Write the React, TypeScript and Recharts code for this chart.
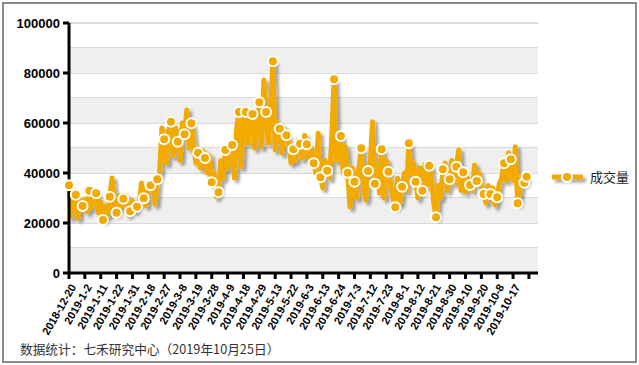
import React from 'react';
import {
  LineChart,
  Line,
  XAxis,
  YAxis,
  CartesianGrid,
  ReferenceArea,
} from 'recharts';

const ORANGE = '#f2a900';

// 成交量, one value per trading day from 2018-12-20 to 2019-10-25
const volume = [
  35100, 22500, 28000, 31300, 22000, 29000, 26800, 29500, 24500, 32900,
  26000, 33000, 31900, 24000, 28500, 21200, 26500, 23000, 30500, 38000,
  27000, 24100, 31000, 26500, 29700, 31000, 23500, 24700, 29000, 25000,
  26500, 28000, 36000, 29900, 27000, 33000, 35100, 34000, 27500, 37500,
  40000, 58000, 53500, 44000, 57000, 60500, 47000, 58000, 52500, 45000,
  60000, 55500, 65200, 50000, 59900, 52000, 44000, 48100, 42000, 49000,
  46000, 40000, 47000, 36300, 40000, 30500, 32300, 45000, 38000, 49200,
  42000, 47000, 51200, 38000, 58000, 64400, 42500, 62000, 64400, 52000,
  60000, 63600, 50000, 58000, 68300, 50500, 77200, 64400, 52000, 66000,
  84700, 49200, 60000, 57700, 48000, 58000, 55100, 52000, 44000, 49500,
  45000, 53000, 51700, 46000, 55000, 51500, 46000, 50000, 43900, 40000,
  55900, 38300, 34000, 45000, 40900, 38000, 55000, 77500, 45000, 52000,
  54800, 40000, 50500, 40100, 26500, 42000, 36500, 30000, 42000, 49900,
  34000, 29200, 40800, 45000, 60500, 35700, 42000, 32000, 49500, 30000,
  45000, 40500, 35000, 30000, 26300, 38000, 28000, 34500, 40000, 33000,
  51900, 40000, 44000, 36500, 30000, 42000, 32900, 43300, 35000, 42900,
  38000, 28000, 22300, 35000, 30000, 41500, 44000, 33000, 37500, 45000,
  36000, 42500, 49200, 33000, 40300, 32500, 38000, 35200, 33000, 43200,
  36800, 40000, 34000, 31600, 28000, 35000, 31600, 34000, 27200, 30300,
  36000, 38000, 43900, 37000, 48000, 45500, 37000, 50500, 27900, 33000,
  39000, 36100, 38500,
];

// one label every 7 trading days, last tick has no label
const tickLabels = [
  '2018-12-20', '2019-1-2', '2019-1-11', '2019-1-22', '2019-1-31',
  '2019-2-18', '2019-2-27', '2019-3-8', '2019-3-19', '2019-3-28',
  '2019-4-9', '2019-4-18', '2019-4-29', '2019-5-13', '2019-5-22',
  '2019-6-3', '2019-6-13', '2019-6-24', '2019-7-3', '2019-7-12',
  '2019-7-23', '2019-8-1', '2019-8-12', '2019-8-21', '2019-8-30',
  '2019-9-10', '2019-9-20', '2019-10-8', '2019-10-17', '',
];

const yTicks = [0, 20000, 40000, 60000, 80000, 100000];
const gridValues = [0, 10000, 20000, 30000, 40000, 50000, 60000, 70000, 80000, 90000, 100000];
const bands = [[0, 10000], [20000, 30000], [40000, 50000], [60000, 70000], [80000, 90000]];

const data = volume.map((v, i) => ({ i, v }));
const xTicks = tickLabels.map((_, k) => k * 7);

const XTick = (props: any) => {
  const { x, y, payload } = props;
  const label = tickLabels[payload.value / 7] || '';
  return (
    <text
      x={x + 4}
      y={y + 4}
      transform={`rotate(-60, ${x + 4}, ${y + 4})`}
      textAnchor="end"
      dominantBaseline="central"
      fontSize={11}
      fontWeight="bold"
      fill="#000"
      fontFamily="Liberation Sans, Arial, sans-serif"
    >
      {label}
    </text>
  );
};

const renderDot = (props: any) => {
  const { cx, cy, index } = props;
  if (index % 3 !== 0 && index !== volume.length - 1) return <g key={`d-${index}`} />;
  return <circle key={`d-${index}`} cx={cx} cy={cy} r={5} fill={ORANGE} stroke="#fff" strokeWidth={2} />;
};

const LegendBox = () => (
  <svg width={90} height={20} style={{ display: 'block' }}>
    <defs>
      <filter id="legshadow" filterUnits="userSpaceOnUse" x={0} y={0} width={60} height={20}>
        <feDropShadow dx={3} dy={3} stdDeviation={1.5} floodColor="#000" floodOpacity={0.35} />
      </filter>
    </defs>
    <line x1={5} y1={9} x2={36} y2={9} stroke={ORANGE} strokeWidth={5} filter="url(#legshadow)" />
    <circle cx={20} cy={9} r={5} fill={ORANGE} stroke="#fff" strokeWidth={2} />
    <text x={43} y={14} fontSize={13} fill="#222" fontFamily="Noto Sans CJK SC, sans-serif">
      成交量
    </text>
  </svg>
);

export default function App() {
  return (
    <div style={{ position: 'absolute', left: 0, top: 0, width: 639, height: 365, background: '#fff' }}>
      <div
        style={{
          position: 'absolute', left: 2, top: 2, width: 635, height: 361,
          border: '2px solid #8a8a8a', boxSizing: 'border-box',
        }}
      />
      <LineChart width={639} height={365} data={data} margin={{ top: 23, right: 101, bottom: 0, left: 0 }}>
        <defs>
          <filter id="shadow" x="-10%" y="-10%" width="130%" height="130%">
            <feDropShadow dx={3} dy={3} stdDeviation={1.5} floodColor="#000" floodOpacity={0.35} />
          </filter>
        </defs>
        {bands.map(([a, b]) => (
          <ReferenceArea key={a} y1={a} y2={b} fill="#efefef" fillOpacity={1} stroke="none" ifOverflow="visible" />
        ))}
        <CartesianGrid vertical={false} horizontalValues={gridValues} stroke="#b4b4b4" strokeWidth={1} />
        <XAxis
          dataKey="i"
          type="number"
          domain={[0, 207]}
          ticks={xTicks}
          interval={0}
          tick={<XTick />}
          tickSize={6}
          axisLine={{ stroke: '#000', strokeWidth: 3 }}
          tickLine={{ stroke: '#000', strokeWidth: 3 }}
          height={92}
        />
        <YAxis
          domain={[0, 100000]}
          ticks={yTicks}
          interval={0}
          width={69}
          tickSize={6}
          tickMargin={3}
          axisLine={{ stroke: '#000', strokeWidth: 3 }}
          tickLine={{ stroke: '#000', strokeWidth: 3 }}
          tick={{ fontSize: 13, fontWeight: 'bold', fill: '#000', fontFamily: 'Liberation Sans, Arial, sans-serif' }}
        />
        <Line
          type="linear"
          dataKey="v"
          name="成交量"
          stroke={ORANGE}
          strokeWidth={5}
          strokeLinejoin="round"
          filter="url(#shadow)"
          dot={renderDot}
          activeDot={false}
          isAnimationActive={false}
        />
      </LineChart>
      <div style={{ position: 'absolute', left: 547, top: 168 }}>
        <LegendBox />
      </div>
      <div
        style={{
          position: 'absolute', left: 20, top: 339, fontSize: 12.7, color: '#333',
          fontFamily: 'Noto Sans CJK SC, sans-serif', whiteSpace: 'nowrap',
        }}
      >
        数据统计：七禾研究中心（2019年10月25日）
      </div>
    </div>
  );
}
